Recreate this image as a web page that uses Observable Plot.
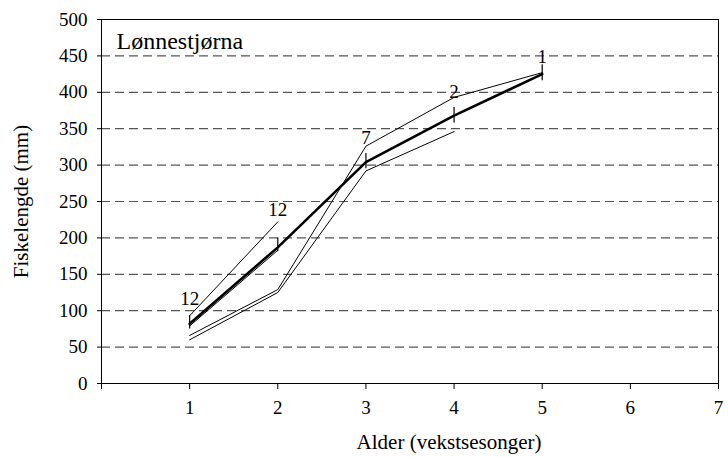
<!DOCTYPE html>
<html>
<head>
<meta charset="utf-8">
<script src="https://cdn.jsdelivr.net/npm/d3@7"></script>
<script src="https://cdn.jsdelivr.net/npm/@observablehq/plot@0.6"></script>
<style>
  html, body { margin: 0; padding: 0; background: #fff; }
  #chart { width: 728px; height: 457px; }
  #chart svg, #chart svg text { font-family: 'Liberation Serif', 'Times New Roman', serif !important; }
</style>
</head>
<body>
<div id="chart"></div>
<script>
// Data
const title = "Lønnestjørna";
const xTitle = "Alder (vekstsesonger)";
const yTitle = "Fiskelengde (mm)";

const xTicks = [0, 1, 2, 3, 4, 5, 6, 7];
const yTicks = [0, 50, 100, 150, 200, 250, 300, 350, 400, 450, 500];
const gridValues = [50, 100, 150, 200, 250, 300, 350, 400, 450];

// Mean growth curve (bold)
const meanAge = [1, 2, 3, 4, 5];
const meanLen = [82, 187, 304, 368, 425];
// small error bars around the mean
const errLow = [75, 181, 295, 358, 416];
const errHigh = [93, 200, 316, 379, 438];

// Individual back-calculated series (thin)
const seriesA_age = [1, 2];
const seriesA_len = [93, 222];
const seriesB_age = [1, 2];
const seriesB_len = [79, 183];
const seriesC_age = [1, 2, 3, 4, 5];
const seriesC_len = [66, 129, 326, 393, 427];
const seriesD_age = [1, 2, 3, 4];
const seriesD_len = [60, 125, 292, 346];

// Count labels (n)
const labelAge = [1, 2, 3, 4, 5];
const labelLen = [116, 238, 337, 401, 449];
const labelText = ["12", "12", "7", "2", "1"];

const toPts = (xs, ys, id) => xs.map((x, i) => ({x, y: ys[i], id}));
const thin = [
  ...toPts(seriesA_age, seriesA_len, "A"),
  ...toPts(seriesB_age, seriesB_len, "B"),
  ...toPts(seriesC_age, seriesC_len, "C"),
  ...toPts(seriesD_age, seriesD_len, "D")
];
const mean = toPts(meanAge, meanLen, "mean");
const errs = meanAge.map((x, i) => ({x, lo: errLow[i], hi: errHigh[i]}));
const labels = labelAge.map((x, i) => ({x, y: labelLen[i], t: labelText[i]}));

const font = "Liberation Serif, Times New Roman, serif";

const chart = Plot.plot({
  width: 728,
  height: 457,
  marginLeft: 101,
  marginRight: 10,
  marginTop: 19,
  marginBottom: 74,
  style: {fontFamily: font, fontSize: "19px", background: "#fff", color: "#000"},
  x: {domain: [0, 7]},
  y: {domain: [0, 500]},
  marks: [
    Plot.ruleY(gridValues, {stroke: "#555", strokeWidth: 1.2, strokeDasharray: "9,5"}),
    Plot.frame({stroke: "#000", strokeWidth: 1}),
    Plot.axisX({ticks: xTicks, tickSize: 6, tickPadding: 11, label: null,
      tickFormat: d => d === 0 ? "" : String(d), fontSize: 19}),
    Plot.axisY({ticks: yTicks, tickSize: 4, tickPadding: 10, label: null, fontSize: 19}),
    Plot.line(thin, {x: "x", y: "y", z: "id", stroke: "#000", strokeWidth: 1}),
    Plot.line(mean, {x: "x", y: "y", stroke: "#000", strokeWidth: 2.6}),
    Plot.ruleX(errs, {x: "x", y1: "lo", y2: "hi", stroke: "#000", strokeWidth: 1.2}),
    Plot.text(labels, {x: "x", y: "y", text: "t", fontSize: 19, fill: "#000"}),
    Plot.text([title], {frameAnchor: "top-left", dx: 15, dy: 12, fontSize: 24, textAnchor: "start", lineAnchor: "top"}),
    Plot.text([xTitle], {frameAnchor: "bottom", dx: 39, dy: 59, fontSize: 21, textAnchor: "middle", lineAnchor: "middle", letterSpacing: "1px"}),
    Plot.text([yTitle], {frameAnchor: "left", dx: -80, rotate: -90, fontSize: 21, textAnchor: "middle", lineAnchor: "middle"})
  ]
});
document.getElementById("chart").appendChild(chart);
</script>
</body>
</html>
